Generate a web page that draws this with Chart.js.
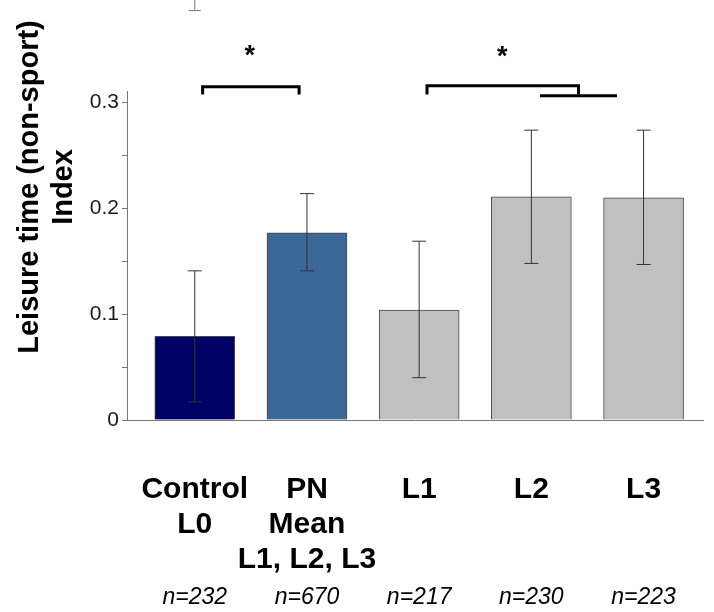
<!DOCTYPE html>
<html>
<head>
<meta charset="utf-8">
<script src="https://cdn.jsdelivr.net/npm/chart.js@4.4.0/dist/chart.umd.min.js"></script>
<style>
  body { margin: 0; background: #fff; }
</style>
</head>
<body>
<canvas id="chart" width="714" height="612"></canvas>
<script>
// Chart data
const categories = [['Control', 'L0'], ['PN', 'Mean', 'L1, L2, L3'], ['L1'], ['L2'], ['L3']];
const sampleSizes = ['n=232', 'n=670', 'n=217', 'n=230', 'n=223'];
const indexValues = [0.079, 0.177, 0.104, 0.211, 0.210];
const errorLow = [0.017, 0.141, 0.040, 0.148, 0.147];
const errorHigh = [0.141, 0.214, 0.169, 0.274, 0.274];
const yTicks = [0, 0.05, 0.1, 0.15, 0.2, 0.25, 0.3];
const yTitle = ['Leisure time (non-sport)', 'Index'];

// significance brackets: x in category units, y in index units
const brackets = [
  { from: 0.07, to: 0.93, y: 0.315, legTo: 0.309 },
  { from: 2.07, to: 3.42, y: 0.316, legTo: 0.309 }
];
const extraLines = [{ from: 3.09, to: 3.75, y: 0.3066 }];
const stars = [{ x: 0.49, y: 0.347 }, { x: 2.74, y: 0.346 }];
// cut-off whisker from the panel above (only its lower cap is visible)
const strayCap = { x: 0, y: 0.387 };

const barColors = ['#000066', '#3b6896', '#c0c0c0', '#c0c0c0', '#c0c0c0'];
const FONT = "'Liberation Sans', Arial, Helvetica, sans-serif";

// error bars, brackets, stars and the rotated y title
const extrasPlugin = {
  id: 'extras',
  afterDatasetsDraw(chart) {
    const { ctx, scales: { x, y } } = chart;
    ctx.save();

    // error bars
    ctx.strokeStyle = '#333';
    ctx.lineWidth = 1;
    indexValues.forEach((v, i) => {
      const px = x.getPixelForValue(i);
      const top = y.getPixelForValue(errorHigh[i]);
      const bot = y.getPixelForValue(errorLow[i]);
      ctx.beginPath();
      ctx.moveTo(px, top); ctx.lineTo(px, bot);
      ctx.moveTo(px - 7, top); ctx.lineTo(px + 7, top);
      ctx.moveTo(px - 7, bot); ctx.lineTo(px + 7, bot);
      ctx.stroke();
    });

    // stray whisker at the very top
    ctx.strokeStyle = '#777';
    const sx = x.getPixelForValue(strayCap.x);
    const sy = y.getPixelForValue(strayCap.y);
    ctx.beginPath();
    ctx.moveTo(sx, 0); ctx.lineTo(sx, sy);
    ctx.moveTo(sx - 6, sy); ctx.lineTo(sx + 6, sy);
    ctx.stroke();

    // brackets
    ctx.strokeStyle = '#000';
    ctx.lineWidth = 3;
    ctx.lineCap = 'square';
    brackets.forEach(b => {
      const x1 = x.getPixelForValue(b.from), x2 = x.getPixelForValue(b.to);
      const yy = y.getPixelForValue(b.y), yl = y.getPixelForValue(b.legTo);
      ctx.beginPath();
      ctx.moveTo(x1, yl); ctx.lineTo(x1, yy); ctx.lineTo(x2, yy); ctx.lineTo(x2, yl);
      ctx.stroke();
    });
    extraLines.forEach(l => {
      const yy = y.getPixelForValue(l.y);
      ctx.beginPath();
      ctx.moveTo(x.getPixelForValue(l.from), yy);
      ctx.lineTo(x.getPixelForValue(l.to), yy);
      ctx.stroke();
    });

    // stars
    ctx.fillStyle = '#000';
    ctx.font = 'bold 27px ' + FONT;
    ctx.textAlign = 'center';
    ctx.textBaseline = 'alphabetic';
    stars.forEach(s => {
      ctx.fillText('*', x.getPixelForValue(s.x), y.getPixelForValue(s.y) + 11);
    });

    // y axis title, two rotated lines
    ctx.font = 'bold 29px ' + FONT;
    ctx.textBaseline = 'middle';
    ctx.translate(0, 187);
    ctx.rotate(-Math.PI / 2);
    ctx.fillText(yTitle[0], 0, 30);
    ctx.fillText(yTitle[1], 0, 64);
    ctx.restore();
  }
};

const ctx = document.getElementById('chart').getContext('2d');
new Chart(ctx, {
  type: 'bar',
  data: {
    datasets: [{
      data: indexValues.map((v, i) => ({ x: i, y: v })),
      backgroundColor: barColors,
      borderColor: '#4a4a4a',
      borderWidth: 1,
      barThickness: 80
    }]
  },
  options: {
    responsive: false,
    animation: false,
    layout: { padding: { top: 91, right: 9, left: 0, bottom: 0 } },
    plugins: { legend: { display: false }, tooltip: { enabled: false } },
    scales: {
      x: {
        type: 'linear',
        min: -0.604,
        max: 4.533,
        offset: false,
        weight: 0,
        afterBuildTicks: s => { s.ticks = categories.map((c, i) => ({ value: i })); },
        afterFit: s => { s.height = 160; },
        grid: { display: false, drawTicks: false, offset: false },
        border: { display: true, color: '#777', width: 1 },
        ticks: {
          autoSkip: false,
          maxRotation: 0,
          minRotation: 0,
          padding: 52,
          color: '#000',
          font: { family: FONT, size: 30, weight: 'bold', lineHeight: 1.1667 },
          callback: v => categories[v]
        }
      },
      n: {
        type: 'linear',
        position: 'bottom',
        min: -0.604,
        max: 4.533,
        offset: false,
        weight: 1,
        afterBuildTicks: s => { s.ticks = sampleSizes.map((c, i) => ({ value: i })); },
        afterFit: s => { s.height = 32; },
        grid: { display: false, drawTicks: false, offset: false },
        border: { display: false },
        ticks: {
          autoSkip: false,
          maxRotation: 0,
          minRotation: 0,
          padding: 4,
          color: '#000',
          font: { family: FONT, size: 23, style: 'italic', lineHeight: 1.2 },
          callback: v => sampleSizes[v]
        }
      },
      y: {
        min: 0,
        max: 0.311,
        afterBuildTicks: s => { s.ticks = yTicks.map(v => ({ value: v })); },
        afterFit: s => { s.width = 127; },
        grid: { display: true, drawOnChartArea: false, drawTicks: true, tickLength: 5, color: '#777' },
        border: { display: true, color: '#777', width: 1 },
        ticks: {
          padding: 3,
          color: '#1a1a1a',
          font: { family: FONT, size: 21 },
          callback: v => (Math.round(v * 100) % 10 === 0 ? String(Math.round(v * 10) / 10) : '')
        }
      }
    }
  },
  plugins: [extrasPlugin]
});
</script>
</body>
</html>
